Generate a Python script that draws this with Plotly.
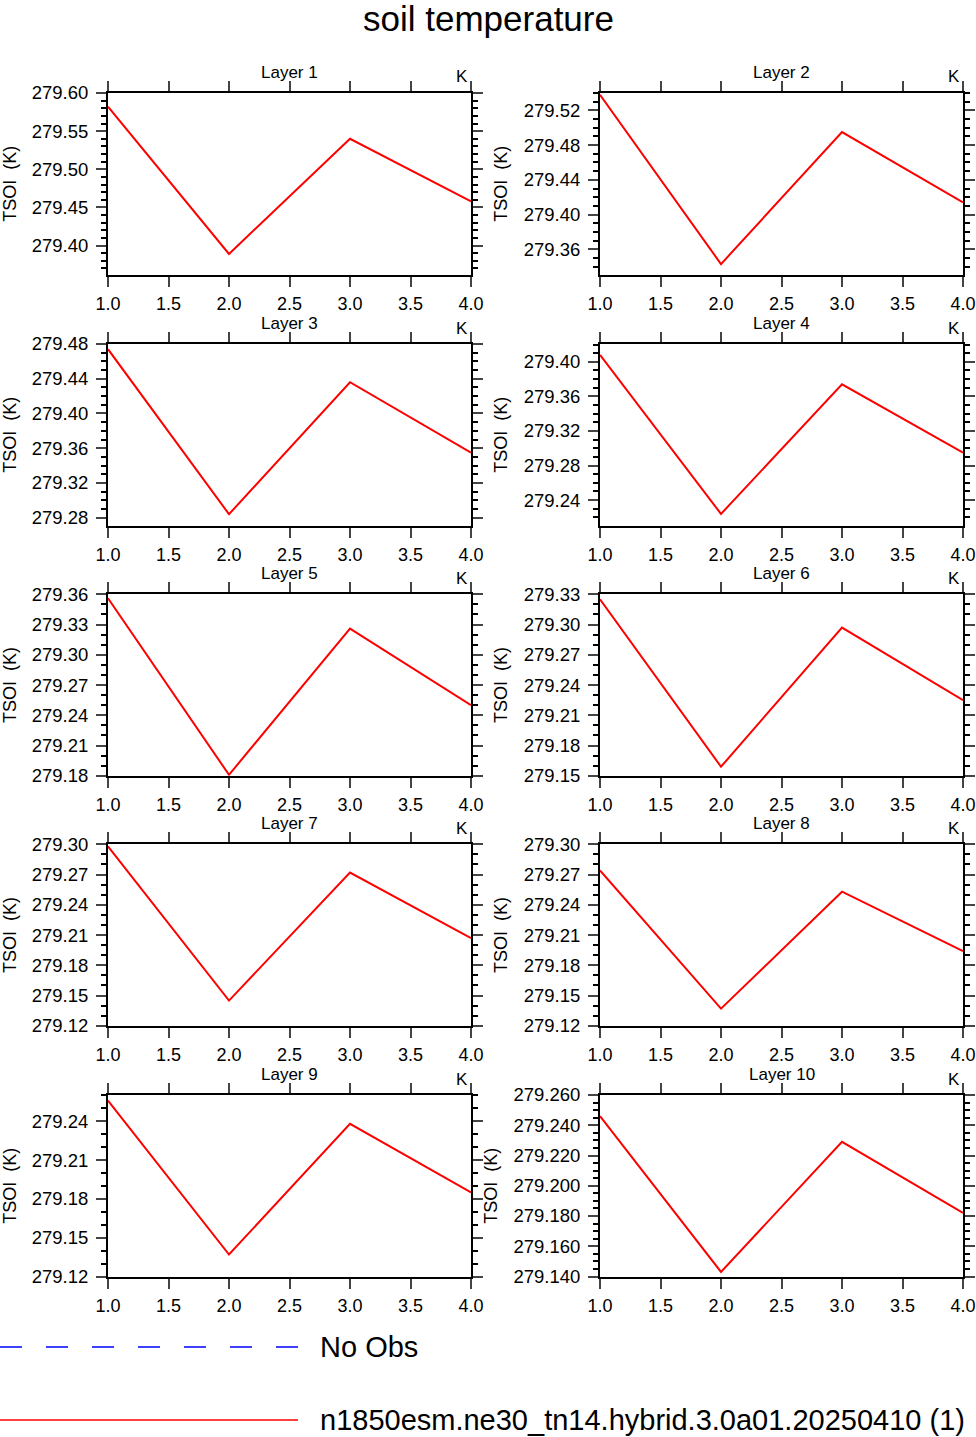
import plotly.graph_objects as go
from plotly.subplots import make_subplots

# figure size in px
W, H = 976, 1437

x_vals = [1.0, 2.0, 3.0, 4.0]

layer1 = [279.582, 279.389, 279.540, 279.458]
layer2 = [279.538, 279.343, 279.495, 279.414]
layer3 = [279.474, 279.284, 279.436, 279.355]
layer4 = [279.408, 279.224, 279.374, 279.295]
layer5 = [279.356, 279.181, 279.326, 279.250]
layer6 = [279.325, 279.159, 279.297, 279.225]
layer7 = [279.298, 279.145, 279.272, 279.207]
layer8 = [279.274, 279.137, 279.253, 279.194]
layer9 = [279.256, 279.137, 279.238, 279.185]
layer10 = [279.246, 279.143, 279.229, 279.182]

layers = [layer1, layer2, layer3, layer4, layer5, layer6, layer7, layer8, layer9, layer10]
layer_names = ["Layer %d" % (i + 1) for i in range(10)]

# axis scales
y_ranges = [[279.362, 279.600], [279.331, 279.540], [279.271, 279.480], [279.2106, 279.4206],
            [279.180, 279.360], [279.150, 279.330], [279.120, 279.300], [279.120, 279.300],
            [279.120, 279.2603], [279.140, 279.260]]
y_tick0 = [279.40, 279.36, 279.28, 279.24, 279.18, 279.15, 279.12, 279.12, 279.12, 279.14]
y_dtick = [0.05, 0.04, 0.04, 0.04, 0.03, 0.03, 0.03, 0.03, 0.03, 0.02]
y_minor = [0.01] * 9 + [0.005]
y_fmt = [".2f"] * 9 + [".3f"]

legend_labels = ["No Obs", "n1850esm.ne30_tn14.hybrid.3.0a01.20250410 (1)"]

FONT = "Liberation Sans, Arial, sans-serif"


def px_x(x):
    return x / W


def px_y(y):
    return 1 - y / H


def text(s, x, y, size, **kw):
    # annotation placed by pixel centre
    d = dict(text=s, x=px_x(x), y=px_y(y), xref="paper", yref="paper", showarrow=False,
             xanchor="center", yanchor="middle", font=dict(family=FONT, size=size, color="black"))
    d.update(kw)
    return d


col_left = [(108, 471), (600, 963)]
row_tops = [93, 344, 594.3, 844.3, 1095]
plot_h = 181.5

fig = make_subplots(rows=5, cols=2)

annotations = []
for i, vals in enumerate(layers):
    r, c = i // 2, i % 2
    fig.add_trace(go.Scatter(x=x_vals, y=vals, mode="lines",
                             line=dict(color="#ff0000", width=2),
                             showlegend=False), row=r + 1, col=c + 1)
    x0, x1 = col_left[c]
    top = row_tops[r]
    bot = top + plot_h
    n = "" if i == 0 else str(i + 1)
    fig.layout["xaxis" + n].update(
        domain=[px_x(x0), px_x(x1)], range=[1, 4], tick0=1, dtick=0.5, tickformat=".1f",
        ticks="outside", ticklen=10, tickwidth=2, mirror="allticks", showline=True,
        linewidth=2, linecolor="black", showgrid=False, zeroline=False, automargin=False,
        ticklabelstandoff=2,
        tickfont=dict(family=FONT, size=18, color="black"))
    fig.layout["yaxis" + n].update(
        domain=[px_y(bot), px_y(top)], range=y_ranges[i], tick0=y_tick0[i], dtick=y_dtick[i],
        tickformat=y_fmt[i], ticks="outside", ticklen=10, tickwidth=2, mirror="allticks",
        showline=True, linewidth=2, linecolor="black", showgrid=False, zeroline=False,
        automargin=False, ticklabelstandoff=4,
        minor=dict(dtick=y_minor[i], tick0=y_tick0[i], ticks="outside", ticklen=5,
                   tickwidth=1.5, tickcolor="black", showgrid=False),
        tickfont=dict(family=FONT, size=18.5, color="black"))
    # panel title, units, y title
    annotations.append(text(layer_names[i], (x0 + x1) / 2, top - 21, 17))
    annotations.append(text("K", x1 - 1, top - 16, 17, xanchor="right"))
    if c == 0:
        ytx = 10
    elif i == 9:
        ytx = 491
    else:
        ytx = 501
    annotations.append(text("TSOI  (K)", ytx, (top + bot) / 2, 18, textangle=-90))

# main title
annotations.append(text("soil temperature", W / 2, 19, 35))

# legend
legend_y = [1347, 1420]
legend_col = ["#0000ff", "#ff0000"]
legend_dash = ["22px,24px", "solid"]
shapes = []
for k in range(2):
    shapes.append(dict(type="line", xref="paper", yref="paper", x0=0, x1=px_x(298),
                       y0=px_y(legend_y[k]), y1=px_y(legend_y[k]),
                       line=dict(color=legend_col[k], width=1.5, dash=legend_dash[k])))
    annotations.append(text(legend_labels[k], 318, legend_y[k], 29, xanchor="left"))

fig.update_layout(width=W, height=H, margin=dict(l=0, r=0, t=0, b=0),
                  paper_bgcolor="white", plot_bgcolor="white",
                  annotations=annotations, shapes=shapes)

fig.write_html("out.html", config={"displayModeBar": False},
               post_script="document.body.style.margin='0px';")
